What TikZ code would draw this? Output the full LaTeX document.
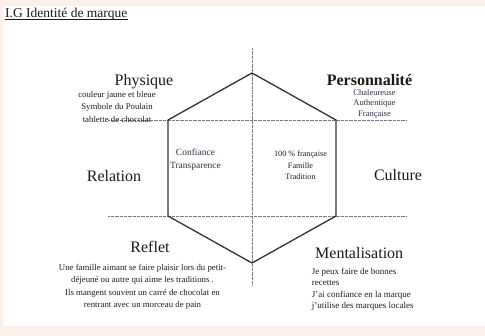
\documentclass[tikz,border=0pt]{standalone}
\usepackage{fontspec}
\setmainfont{Liberation Serif}
\definecolor{bgpink}{HTML}{FDF0EA}
\definecolor{ink}{HTML}{1A1A1A}
\definecolor{ink2}{HTML}{1E1E1E}
\definecolor{slate}{HTML}{2F3248}
\definecolor{hexcol}{HTML}{333333}
\definecolor{guidecol}{HTML}{7A7A7A}
\tikzset{
  head/.style={font=\fontsize{16}{19}\selectfont, text=ink, inner sep=0pt, anchor=base},
  smalltext/.style={font=\fontsize{8.8}{12.5}\selectfont, text=ink2, inner sep=0pt, anchor=north, align=center},
  hexline/.style={draw=hexcol, line width=1.3pt, line join=miter},
  guide/.style={draw=guidecol, line width=0.6pt, dash pattern=on 0.7pt off 0.6pt}
}
\begin{document}
\begin{tikzpicture}[x=1pt,y=-1pt]
\fill[bgpink] (0,0) rectangle (485,336);
\fill[white] (3,6) rectangle (485,326);
\useasboundingbox (0,0) rectangle (485,336);

% guide coordinates
\coordinate (vtop) at (252,48);
\coordinate (vbot) at (252,285);
\coordinate (h1l) at (108,120);
\coordinate (h1r) at (407,120);
\coordinate (h2l) at (108,216);
\coordinate (h2r) at (407,216);
\draw[guide] (vtop) -- (vbot);
\draw[guide] (h1l) -- (h1r);
\draw[guide] (h2l) -- (h2r);

% hexagon
\coordinate (T) at (252,73);
\coordinate (UR) at (336,120);
\coordinate (LR) at (336,216);
\coordinate (B) at (252,263);
\coordinate (LL) at (168,216);
\coordinate (UL) at (168,120);
\draw[hexline] (T) -- (UR) -- (LR) -- (B) -- (LL) -- (UL) -- cycle;

% title
\node[anchor=base west, inner sep=0pt, text=ink, font=\fontsize{13.5}{16}\selectfont] (title) at (5,18) {I.G Identité de marque};
\draw[ink, line width=0.6pt] ([yshift=-1.6pt]title.base west) -- ([yshift=-1.6pt]title.base east);

% Physique
\node[head] (phys) at (144,86) {Physique};
\node[smalltext] (physt) at (117,88.25) {\strut couleur jaune et bleue\\Symbole du Poulain\\tablette de chocolat};

% Personnalite
\node[head, font=\fontsize{16}{19}\selectfont\bfseries] (pers) at (369.5,86) {Personnalité};
\node[smalltext, text=slate, font=\fontsize{8.5}{10.5}\selectfont] (perst) at (374.5,87.65) {\strut Chaleureuse\\Authentique\\Française};

% Relation
\node[head] (rel) at (114,181.5) {Relation};
\node[smalltext, text=slate, font=\fontsize{9.5}{12.5}\selectfont] (relt) at (195.5,146.75) {\strut Confiance\\Transparence};

% Culture
\node[head] (cult) at (398,181) {Culture};
\node[smalltext, font=\fontsize{8.2}{11.5}\selectfont] (cultt) at (300.5,148.45) {\strut 100 \% française\\Famille\\Tradition};

% Reflet
\node[head] (refl) at (150,253) {Reflet};
\node[smalltext] (reflt) at (142.5,261.25) {\strut Une famille aimant se faire plaisir lors du petit-\\déjeuné ou autre qui aime les traditions .\\Ils mangent souvent un carré de chocolat en\\rentrant avec un morceau de pain};

% Mentalisation
\node[head, anchor=base west] (ment) at (315,259) {Mentalisation};
\node[smalltext, anchor=north west, align=left, font=\fontsize{9}{11.5}\selectfont] (mentt) at (311.7,266) {\strut Je peux faire de bonnes\\recettes\\J’ai confiance en la marque\\j’utilise des marques locales};
\end{tikzpicture}
\end{document}
